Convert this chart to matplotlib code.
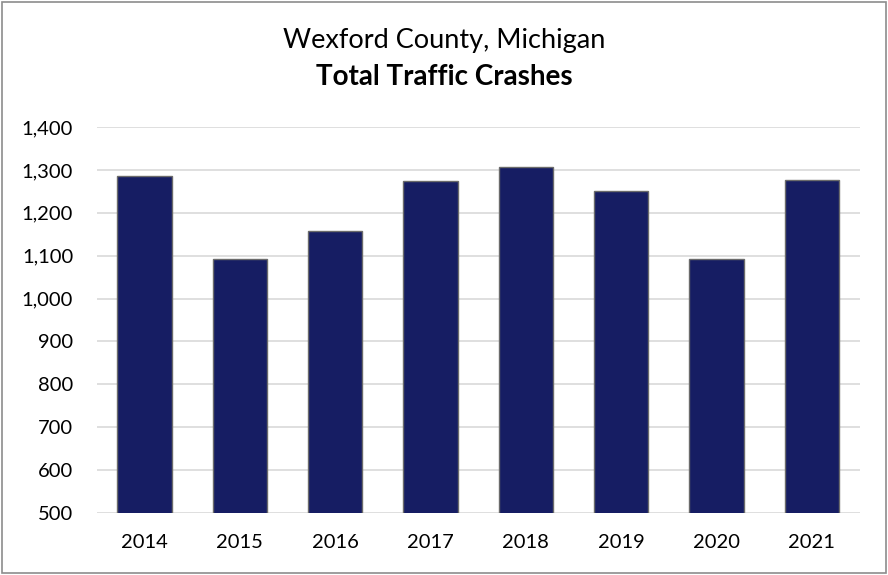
import matplotlib.pyplot as plt
from matplotlib.patches import Rectangle
from matplotlib.ticker import FuncFormatter

plt.rcParams['font.family'] = ['Lato', 'DejaVu Sans']

years = ['2014', '2015', '2016', '2017', '2018', '2019', '2020', '2021']
crashes = [1287, 1092, 1157, 1275, 1306, 1252, 1093, 1276]

fig = plt.figure(figsize=(8.88, 5.75), dpi=100)
ax = fig.add_axes([0.109, 0.108, 0.859, 0.671])

ax.bar(years, crashes, width=0.57, color='#161d63', edgecolor='#6b6b6b',
       linewidth=1, zorder=3)

ax.set_ylim(500, 1400)
ax.set_xlim(-0.5, len(years) - 0.5)
ax.set_yticks(range(500, 1401, 100))
ax.yaxis.set_major_formatter(FuncFormatter(lambda v, p: f'{int(v):,}'))
ax.grid(axis='y', color='#d9d9d9', linewidth=1.2, zorder=0)
ax.tick_params(axis='both', length=0, labelsize=14.5, colors='black')
ax.tick_params(axis='y', pad=17)
ax.tick_params(axis='x', pad=15)
for s in ax.spines.values():
    s.set_visible(False)

fig.text(0.5, 0.93, 'Wexford County, Michigan', ha='center', va='center',
         fontsize=19.5)
fig.text(0.5, 0.866, 'Total Traffic Crashes', ha='center', va='center',
         fontsize=20, fontweight='bold')

# outer chart border
fig.patches.append(Rectangle((0.002, 0.003), 0.996, 0.994, transform=fig.transFigure,
                             fill=False, edgecolor='#8c8c8c', linewidth=1.2))

fig.savefig('out.png', dpi=100)
